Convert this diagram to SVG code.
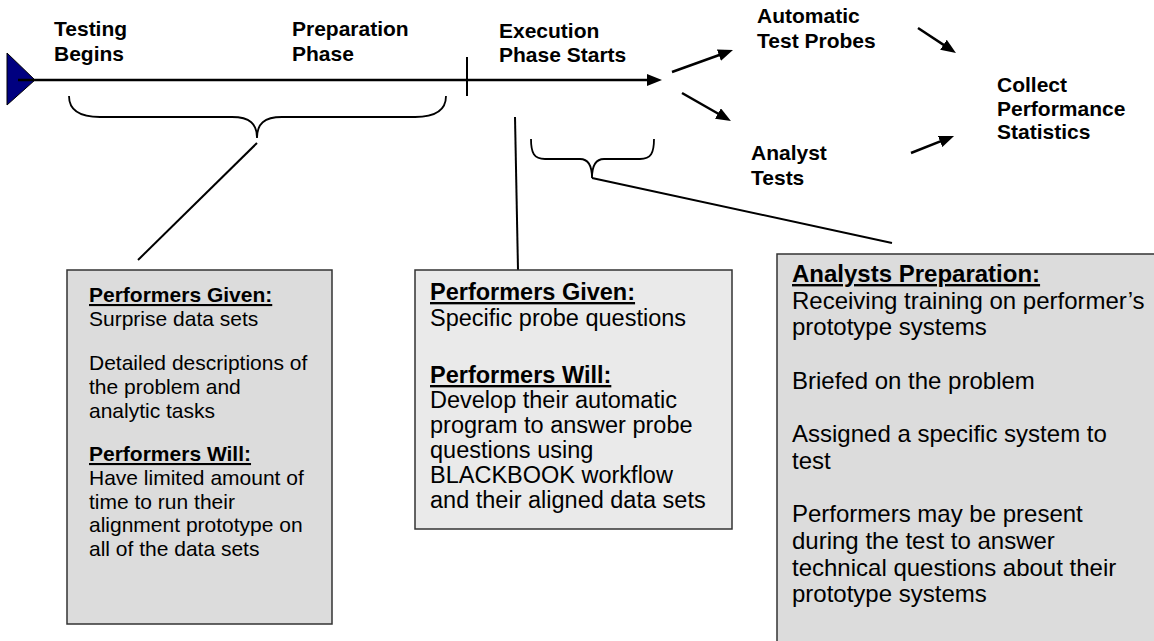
<svg xmlns="http://www.w3.org/2000/svg" width="1154" height="641" viewBox="0 0 1154 641">
<style>
.lbl{font-family:"Liberation Sans",Arial,sans-serif;font-weight:bold;font-size:21px;fill:#000}
.b1{font-family:"Liberation Sans",Arial,sans-serif;font-size:21px;fill:#000}
.b2{font-family:"Liberation Sans",Arial,sans-serif;font-size:23.5px;fill:#000}
.b3{font-family:"Liberation Sans",Arial,sans-serif;font-size:24px;fill:#000}
.hd{font-weight:bold;text-decoration:underline}
.box{stroke:#333;stroke-width:1.5}
.ln{stroke:#000;stroke-width:2;fill:none}
.arr{stroke:#000;stroke-width:2.5;fill:none;marker-end:url(#ah)}
.brace{stroke:#000;stroke-width:1.8;fill:none}
</style>
<defs>
<marker id="ah" markerUnits="userSpaceOnUse" viewBox="0 0 15 12" markerWidth="15" markerHeight="12" refX="7" refY="6" orient="auto">
<path d="M0,0 L15,6 L0,12 z" fill="#000"/>
</marker>
</defs>
<rect width="1154" height="641" fill="#fff"/>

<g id="timeline">
<polygon points="7,53 35,80 7,105" fill="#000080" stroke="#000" stroke-width="1"/>
<line x1="18" y1="80" x2="654" y2="80" class="arr"/>
<line x1="467" y1="57" x2="467" y2="96" class="ln"/>
</g>

<g id="label-testing-begins">
<text class="lbl" x="54" y="36">Testing</text>
<text class="lbl" x="54" y="61">Begins</text>
</g>
<g id="label-preparation-phase">
<text class="lbl" x="292" y="36">Preparation</text>
<text class="lbl" x="292" y="61">Phase</text>
</g>
<g id="label-execution">
<text class="lbl" x="499" y="38">Execution</text>
<text class="lbl" x="499" y="62">Phase Starts</text>
</g>
<g id="label-automatic">
<text class="lbl" x="757" y="23">Automatic</text>
<text class="lbl" x="757" y="48">Test Probes</text>
</g>
<g id="label-analyst">
<text class="lbl" x="751" y="160">Analyst</text>
<text class="lbl" x="751" y="185">Tests</text>
</g>
<g id="label-collect">
<text class="lbl" x="997" y="92">Collect</text>
<text class="lbl" x="997" y="116">Performance</text>
<text class="lbl" x="997" y="139">Statistics</text>
</g>

<g id="connectors">
<path class="brace" d="M69,96 C69,110 80,117 100,117 L232,117 C250,117 257,124 257,138 C257,124 264,117 282,117 L415,117 C435,117 446,110 446,96"/>
<path class="brace" d="M531,139 C531,153 534,159 545,159 L580,159 C588,159 592,166 592,178 C592,166 596,159 604,159 L640,159 C651,159 654,153 654,139"/>
<line class="ln" x1="257" y1="143" x2="138" y2="260"/>
<line class="ln" x1="515" y1="117" x2="518" y2="270"/>
<line class="ln" x1="592" y1="178" x2="892" y2="243"/>
<line class="arr" x1="672" y1="72" x2="725.5" y2="52.7"/>
<line class="arr" x1="682" y1="93" x2="724" y2="117"/>
<line class="arr" x1="918" y1="28" x2="949.3" y2="48.6"/>
<line class="arr" x1="911" y1="153" x2="946.6" y2="138.9"/>
</g>

<g id="box-preparation">
<rect class="box" x="67" y="270" width="265" height="354" fill="#dcdcdc"/>
<text class="b1" x="89" y="302"><tspan class="hd">Performers Given:</tspan></text>
<text class="b1" x="89" y="326">Surprise data sets</text>
<text class="b1" x="89" y="370">Detailed descriptions of</text>
<text class="b1" x="89" y="394">the problem and</text>
<text class="b1" x="89" y="418">analytic tasks</text>
<text class="b1" x="89" y="461"><tspan class="hd">Performers Will:</tspan></text>
<text class="b1" x="89" y="485">Have limited amount of</text>
<text class="b1" x="89" y="509">time to run their</text>
<text class="b1" x="89" y="532">alignment prototype on</text>
<text class="b1" x="89" y="556">all of the data sets</text>
</g>

<g id="box-execution">
<rect class="box" x="415" y="270" width="317" height="259" fill="#eaeaea"/>
<text class="b2" x="430" y="300"><tspan class="hd">Performers Given:</tspan></text>
<text class="b2" x="430" y="326">Specific probe questions</text>
<text class="b2" x="430" y="383"><tspan class="hd">Performers Will:</tspan></text>
<text class="b2" x="430" y="408">Develop their automatic</text>
<text class="b2" x="430" y="433">program to answer probe</text>
<text class="b2" x="430" y="458">questions using</text>
<text class="b2" x="430" y="483">BLACKBOOK workflow</text>
<text class="b2" x="430" y="508">and their aligned data sets</text>
</g>

<g id="box-analysts">
<rect class="box" x="777" y="254" width="390" height="400" fill="#dcdcdc"/>
<text class="b3" x="792" y="282"><tspan class="hd">Analysts Preparation:</tspan></text>
<text class="b3" x="792" y="309">Receiving training on performer’s</text>
<text class="b3" x="792" y="335">prototype systems</text>
<text class="b3" x="792" y="389">Briefed on the problem</text>
<text class="b3" x="792" y="442">Assigned a specific system to</text>
<text class="b3" x="792" y="469">test</text>
<text class="b3" x="792" y="522">Performers may be present</text>
<text class="b3" x="792" y="549">during the test to answer</text>
<text class="b3" x="792" y="576">technical questions about their</text>
<text class="b3" x="792" y="602">prototype systems</text>
</g>
</svg>
